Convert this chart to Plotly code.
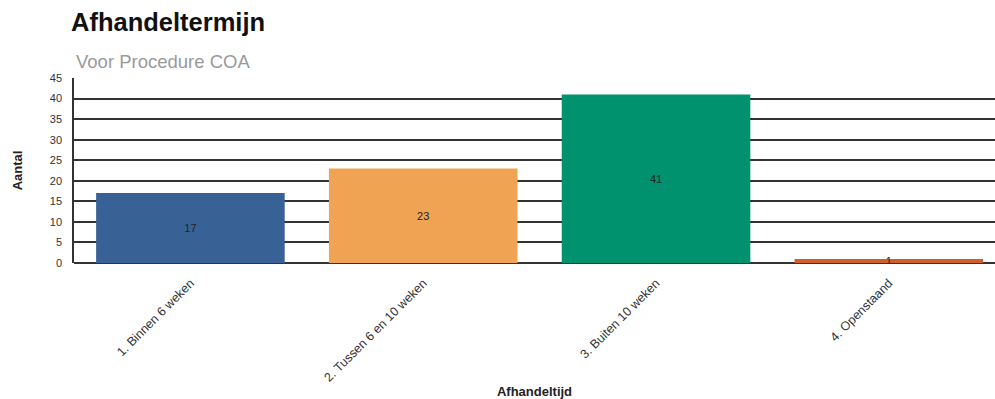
import plotly.graph_objects as go

# Afhandeltermijn per categorie
categories = ["1. Binnen 6 weken", "2. Tussen 6 en 10 weken", "3. Buiten 10 weken", "4. Openstaand"]
counts = [17, 23, 41, 1]
bar_colors = ["#386296", "#f0a352", "#00916e", "#cf5f2d"]

fig = go.Figure(
    go.Bar(
        x=categories,
        y=counts,
        marker=dict(color=bar_colors, line=dict(width=0)),
        width=0.81,
        text=[str(v) for v in counts],
        textposition="inside",
        insidetextanchor="middle",
        constraintext="none",
        textangle=0,
        textfont=dict(family="Arial, Liberation Sans", size=11, color="#222222"),
        hoverinfo="x+y",
    )
)

fig.update_layout(
    width=995,
    height=399,
    margin=dict(l=74, r=0, t=78, b=136),
    paper_bgcolor="white",
    plot_bgcolor="white",
    showlegend=False,
    font=dict(family="Arial, Liberation Sans", color="#333333"),
    title=dict(
        text="<b>Afhandeltermijn</b>",
        x=71 / 995,
        xanchor="left",
        xref="container",
        y=1 - 22 / 399,
        yanchor="middle",
        yref="container",
        font=dict(family="Arial, Liberation Sans", size=25.5, color="#111111"),
    ),
    annotations=[
        dict(
            text="Voor Procedure COA",
            xref="paper",
            yref="paper",
            x=0,
            y=1 + 17 / 185,
            xanchor="left",
            yanchor="middle",
            showarrow=False,
            font=dict(family="Arial, Liberation Sans", size=18.5, color="#9a9a9a"),
        )
    ],
)

fig.update_xaxes(
    range=[-0.5, 3.456],
    tickangle=-45,
    tickfont=dict(size=12.5, color="#333333"),
    showgrid=False,
    showline=False,
    ticks="outside",
    ticklen=7,
    tickcolor="rgba(0,0,0,0)",
    title=dict(
        text="<b>Afhandeltijd</b>",
        font=dict(size=13, color="#222222"),
        standoff=14,
    ),
    automargin=False,
)

fig.update_yaxes(
    range=[0, 45],
    dtick=5,
    showgrid=True,
    gridcolor="#333333",
    gridwidth=1.5,
    zeroline=True,
    zerolinecolor="#333333",
    zerolinewidth=1.5,
    showline=True,
    linecolor="#333333",
    linewidth=1.5,
    ticks="outside",
    ticklen=8,
    tickcolor="rgba(0,0,0,0)",
    tickfont=dict(size=11, color="#333333"),
    title=dict(
        text="<b>Aantal</b>",
        font=dict(size=13, color="#222222"),
        standoff=24,
    ),
    automargin=False,
)

fig.write_html("out.html")
